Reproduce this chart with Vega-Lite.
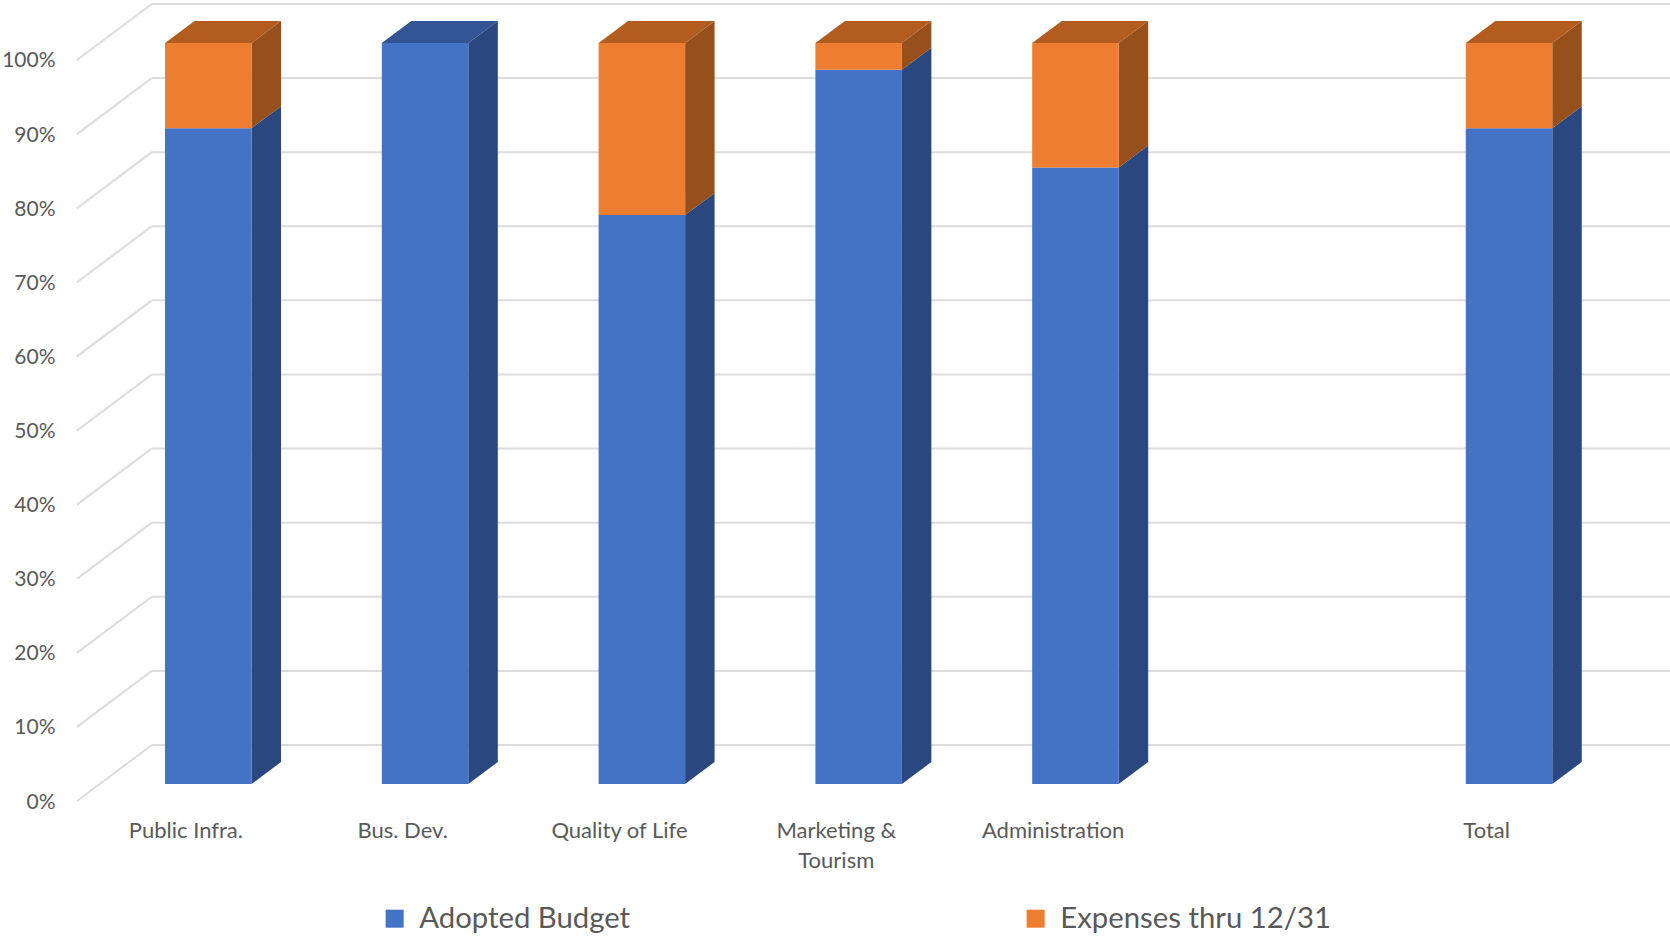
{
"$schema":"https://vega.github.io/schema/vega-lite/v6.json",
"width":1593,"height":798,"autosize":"none","padding":{"left":77,"top":3,"right":0,"bottom":136},
"background":"#ffffff",
"config":{"view":{"stroke":null},"font":"Lato"},
"datasets":{
"bars":[
{"category":"Public Infra.","idx":0,"series":"Adopted Budget","value":88.5},
{"category":"Public Infra.","idx":0,"series":"Expenses thru 12/31","value":11.5},
{"category":"Bus. Dev.","idx":1,"series":"Adopted Budget","value":100},
{"category":"Bus. Dev.","idx":1,"series":"Expenses thru 12/31","value":0},
{"category":"Quality of Life","idx":2,"series":"Adopted Budget","value":76.8},
{"category":"Quality of Life","idx":2,"series":"Expenses thru 12/31","value":23.2},
{"category":"Marketing & Tourism","idx":3,"series":"Adopted Budget","value":96.4},
{"category":"Marketing & Tourism","idx":3,"series":"Expenses thru 12/31","value":3.6},
{"category":"Administration","idx":4,"series":"Adopted Budget","value":83.2},
{"category":"Administration","idx":4,"series":"Expenses thru 12/31","value":16.8},
{"category":"Total","idx":6,"series":"Adopted Budget","value":88.5},
{"category":"Total","idx":6,"series":"Expenses thru 12/31","value":11.5}
],
"ticks":[{"tick":0},{"tick":10},{"tick":20},{"tick":30},{"tick":40},{"tick":50},{"tick":60},{"tick":70},{"tick":80},{"tick":90},{"tick":100}]
},
"layer":[
{"data":{"name":"ticks"},
 "transform":[{"calculate":"datum.tick+7.56","as":"back"}],
 "mark":{"type":"rule","color":"#dcdcdc","strokeWidth":2},
 "encoding":{
  "x":{"datum":-0.155,"type":"quantitative","scale":{"domain":[-0.5,6.848],"nice":false,"zero":false},
   "axis":{"values":[0,1,2,3,4,6],"title":null,"grid":false,"domain":false,"ticks":false,"labelFontSize":22,"labelColor":"#595959","labelFont":"Lato","labelPadding":19,"labelOverlap":false,"labelFlush":false,"labelLimit":0,"labelLineHeight":30,
    "labelExpr":"datum.value==0?'Public Infra.':datum.value==1?'Bus. Dev.':datum.value==2?'Quality of Life':datum.value==3?['Marketing &','Tourism']:datum.value==4?'Administration':'Total'"}},
  "x2":{"datum":6.848},
  "y":{"field":"back","type":"quantitative","scale":{"domain":[0,107.69],"nice":false,"zero":false},
   "axis":{"values":[0,10,20,30,40,50,60,70,80,90,100],"title":null,"grid":false,"domain":false,"ticks":false,"labelFontSize":21,"labelColor":"#595959","labelFont":"Lato","labelPadding":22,"labelOffset":1,"labelExpr":"datum.value+'%'"}}
 }},
{"data":{"name":"ticks"},
 "transform":[{"calculate":"datum.tick+7.56","as":"back"}],
 "mark":{"type":"rule","color":"#dcdcdc","strokeWidth":2},
 "encoding":{
  "x":{"datum":-0.5,"type":"quantitative"},
  "x2":{"datum":-0.155},
  "y":{"field":"tick","type":"quantitative"},
  "y2":{"field":"back"}
 }},
{"data":{"name":"bars"},
 "transform":[
  {"stack":"value","groupby":["category"],"sort":[{"field":"series","order":"ascending"}],"as":["s0","s1"]},
  {"filter":"datum.value>0 && datum.series==='Adopted Budget'"},
  {"calculate":"[0,1]","as":"depth"},{"flatten":["depth"]},
  {"calculate":"datum.idx+0.305+datum.depth*0.136","as":"sx"},
  {"calculate":"datum.s0+2.294+datum.depth*2.97","as":"sy0"},
  {"calculate":"datum.s1+2.294+datum.depth*2.97","as":"sy1"}
 ],
 "mark":{"type":"area","orient":"vertical","color":"#2A477F"},
 "encoding":{
  "detail":{"field":"category"},
  "x":{"field":"sx","type":"quantitative"},
  "y":{"field":"sy1","type":"quantitative"},
  "y2":{"field":"sy0"}
 }},
{"data":{"name":"bars"},
 "transform":[
  {"stack":"value","groupby":["category"],"sort":[{"field":"series","order":"ascending"}],"as":["s0","s1"]},
  {"filter":"datum.value>0 && datum.series!=='Adopted Budget'"},
  {"calculate":"[0,1]","as":"depth"},{"flatten":["depth"]},
  {"calculate":"datum.idx+0.305+datum.depth*0.136","as":"sx"},
  {"calculate":"datum.s0+2.294+datum.depth*2.97","as":"sy0"},
  {"calculate":"datum.s1+2.294+datum.depth*2.97","as":"sy1"}
 ],
 "mark":{"type":"area","orient":"vertical","color":"#97501C"},
 "encoding":{
  "detail":{"field":"category"},
  "x":{"field":"sx","type":"quantitative"},
  "y":{"field":"sy1","type":"quantitative"},
  "y2":{"field":"sy0"}
 }},
{"data":{"name":"bars"},
 "transform":[
  {"stack":"value","groupby":["category"],"sort":[{"field":"series","order":"ascending"}],"as":["s0","s1"]},
  {"filter":"datum.value>0 && datum.s1>99.9 && datum.series==='Adopted Budget'"},
  {"calculate":"[0,1]","as":"depth"},{"flatten":["depth"]},
  {"calculate":"datum.idx-0.094+datum.depth*0.136","as":"tx0"},
  {"calculate":"datum.idx+0.305+datum.depth*0.136","as":"tx1"},
  {"calculate":"datum.s1+2.294+datum.depth*2.97","as":"ty"}
 ],
 "mark":{"type":"area","orient":"horizontal","color":"#335594"},
 "encoding":{
  "detail":{"field":"category"},
  "y":{"field":"ty","type":"quantitative"},
  "x":{"field":"tx0","type":"quantitative"},
  "x2":{"field":"tx1"}
 }},
{"data":{"name":"bars"},
 "transform":[
  {"stack":"value","groupby":["category"],"sort":[{"field":"series","order":"ascending"}],"as":["s0","s1"]},
  {"filter":"datum.value>0 && datum.s1>99.9 && datum.series!=='Adopted Budget'"},
  {"calculate":"[0,1]","as":"depth"},{"flatten":["depth"]},
  {"calculate":"datum.idx-0.094+datum.depth*0.136","as":"tx0"},
  {"calculate":"datum.idx+0.305+datum.depth*0.136","as":"tx1"},
  {"calculate":"datum.s1+2.294+datum.depth*2.97","as":"ty"}
 ],
 "mark":{"type":"area","orient":"horizontal","color":"#B35C20"},
 "encoding":{
  "detail":{"field":"category"},
  "y":{"field":"ty","type":"quantitative"},
  "x":{"field":"tx0","type":"quantitative"},
  "x2":{"field":"tx1"}
 }},
{"data":{"name":"bars"},
 "transform":[
  {"stack":"value","groupby":["category"],"sort":[{"field":"series","order":"ascending"}],"as":["s0","s1"]},
  {"filter":"datum.value>0"},
  {"calculate":"datum.idx-0.094","as":"fx0"},
  {"calculate":"datum.idx+0.305","as":"fx1"},
  {"calculate":"datum.s0+2.294","as":"fy0"},
  {"calculate":"datum.s1+2.294","as":"fy1"}
 ],
 "mark":{"type":"rect"},
 "encoding":{
  "x":{"field":"fx0","type":"quantitative"},
  "x2":{"field":"fx1"},
  "y":{"field":"fy1","type":"quantitative"},
  "y2":{"field":"fy0"},
  "color":{"field":"series","type":"nominal","scale":{"domain":["Adopted Budget","Expenses thru 12/31"],"range":["#4472C4","#ED7D31"]},
   "legend":{"title":null,"orient":"none","legendX":303,"legendY":901,"direction":"horizontal","symbolType":"square","symbolSize":324,"symbolStrokeWidth":0,"symbolOpacity":1,"labelFont":"Lato","labelFontSize":29.3,"labelColor":"#595959","labelOffset":10,"columnPadding":390,"labelLimit":0}}
 }}
]
}
